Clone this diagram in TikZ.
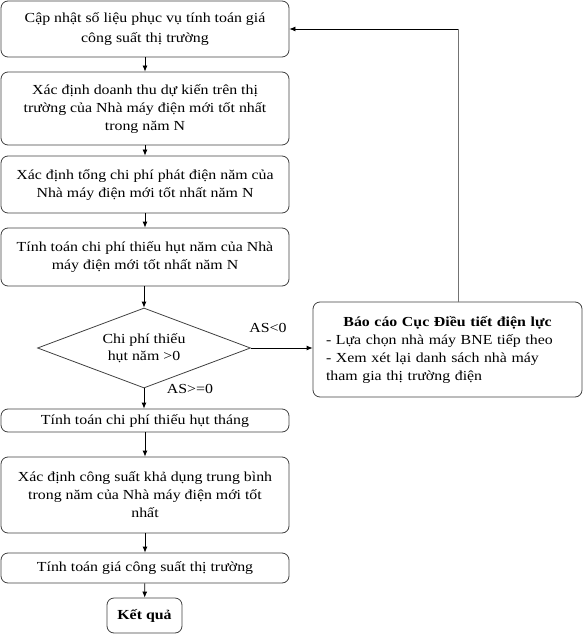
\documentclass[tikz,border=0pt]{standalone}
\usepackage{fontspec}
\setmainfont[FakeStretch=1.15]{Liberation Serif}
\usetikzlibrary{shapes.geometric,arrows.meta}
\begin{document}
\begin{tikzpicture}[x=1pt,y=-1pt,
  box/.style={draw=black!75,line width=0.8pt,rounded corners=7pt,align=center,inner sep=0pt,
    minimum width=288pt,font=\fontsize{13.8}{18}\selectfont},
  dec/.style={draw=black!75,line width=0.8pt,diamond,aspect=2.66,inner sep=0pt,align=center,
    minimum width=213pt,minimum height=80pt,font=\fontsize{13.8}{17}\selectfont},
  lbl/.style={font=\fontsize{13.8}{16}\selectfont,inner sep=0pt},
  arr/.style={-{Latex[length=6pt,width=5pt]},line width=0.8pt,black}
]
\useasboundingbox (0,0) rectangle (584,636);
\node[box,minimum height=56pt,font=\fontsize{13.8}{20}\selectfont] (b1) at (145,29) {Cập nhật số liệu phục vụ tính toán giá\\công suất thị trường};
\node[box,minimum height=73pt] (b2) at (145,108.5) {Xác định doanh thu dự kiến trên thị\\trường của Nhà máy điện mới tốt nhất\\trong năm N};
\node[box,minimum height=57pt] (b3) at (145,184.5) {Xác định tổng chi phí phát điện năm của\\Nhà máy điện mới tốt nhất năm N};
\node[box,minimum height=58pt] (b4) at (145,257) {Tính toán chi phí thiếu hụt năm của Nhà\\máy điện mới tốt nhất năm N};
\node[dec] (d) at (144,348) {Chi phí thiếu\\hụt năm >0};
\node[box,minimum height=23pt] (b5) at (145,420.5) {Tính toán chi phí thiếu hụt tháng};
\node[box,minimum height=76pt] (b6) at (145,495) {Xác định công suất khả dụng trung bình\\trong năm của Nhà máy điện mới tốt\\nhất};
\node[box,minimum height=30pt] (b7) at (145,568) {Tính toán giá công suất thị trường};
\node[box,minimum width=75pt,minimum height=35pt,font=\fontsize{13.8}{18}\selectfont\bfseries] (b8) at (144.5,615.5) {Kết quả};
\node[box,minimum width=269pt,minimum height=95pt,text width=243pt,align=left] (rb) at (447.5,349.5)
  {\makebox[\linewidth]{\textbf{Báo cáo Cục Điều tiết điện lực}}\\- Lựa chọn nhà máy BNE tiếp theo\\- Xem xét lại danh sách nhà máy\\tham gia thị trường điện};
\node[lbl] (l1) at (268,328) {AS<0};
\node[lbl] (l2) at (190,389) {AS>=0};
\draw[arr] (b1) -- (b2);
\draw[arr] (b2) -- (b3);
\draw[arr] (b3) -- (b4);
\draw[arr] (b4.south -| d.north) -- (d.north);
\draw[arr] (d.south) -- (b5.north -| d.south);
\draw[arr] (b5) -- (b6);
\draw[arr] (b6) -- (b7);
\draw[arr] (b7) -- (b8);
\draw[arr] (d.east) -- (rb.west |- d.east);
\coordinate (fb) at (458,302);
\coordinate (fbt) at (458,29);
\draw[line width=0.9pt,black!55] (fb) -- (fbt);
\draw[arr] (fbt) -- (b1.east);
\end{tikzpicture}
\end{document}
